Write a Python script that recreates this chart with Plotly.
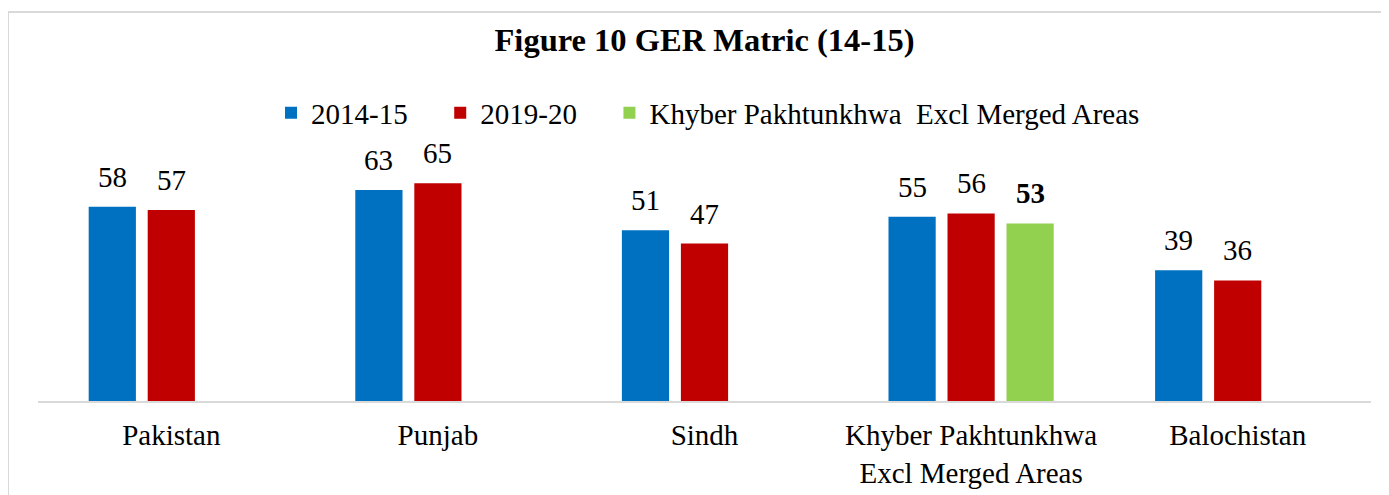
import plotly.graph_objects as go

categories = ["Pakistan", "Punjab", "Sindh", "Khyber Pakhtunkhwa<br>Excl Merged Areas", "Balochistan"]
series_names = ["2014-15", "2019-20", "Khyber Pakhtunkhwa  Excl Merged Areas"]
values_2014 = [58, 63, 51, 55, 39]
values_2019 = [57, 65, 47, 56, 36]
values_kp_excl = [None, None, None, 53, None]
colors = ["#0070C0", "#C00000", "#92D050"]
title_text = "<b>Figure 10 GER Matric (14-15)</b>"

# the page body adds an 8px margin, so the figure is 8px smaller than the window
OFF = 8
W, H = 1389 - OFF, 495 - OFF
ML, MR, MT, MB = 38 - OFF, 18, 133 - OFF, 94
BARGAP, BARGROUPGAP = 0.336, 0.2
YMAX = 80
FONT = "Liberation Serif"

plot_w = W - ML - MR
plot_h = H - MT - MB
cat_px = plot_w / len(categories)
slot_px = cat_px * (1 - BARGAP) / len(series_names)

fig = go.Figure()
all_series = [values_2014, values_2019, values_kp_excl]
pad = "\u00a0" * 3 + "\u2009"
for i, (name, vals, col) in enumerate(zip(series_names, all_series, colors)):
    fig.add_trace(go.Bar(
        x=categories, y=vals, name=name + (pad if i < 2 else ""),
        marker=dict(color=col, line=dict(width=0)),
        hoverinfo="x+y",
    ))

# data labels
for si, vals in enumerate(all_series):
    for c, v in zip(categories, vals):
        if v is None:
            continue
        txt = f"<b>{v}</b>" if si == 2 else str(v)
        fig.add_annotation(
            x=c, y=v, xref="x", yref="y", text=txt, showarrow=False,
            xanchor="center", yanchor="bottom",
            xshift=(si - 1) * slot_px, yshift=12,
            font=dict(family=FONT, size=29, color="#000000"),
        )

# chart border (light gray)
bx = (8 - OFF - ML) / plot_w
by = (H - MB - (12 - OFF)) / plot_h
fig.add_shape(type="line", xref="paper", yref="paper", x0=bx, x1=1.1, y0=by, y1=by,
              line=dict(color="#D9D9D9", width=2))
fig.add_shape(type="line", xref="paper", yref="paper", x0=bx, x1=bx, y0=by, y1=-0.5,
              line=dict(color="#D9D9D9", width=2))

fig.update_layout(
    width=W, height=H,
    margin=dict(l=ML, r=MR, t=MT, b=MB, autoexpand=False),
    paper_bgcolor="white", plot_bgcolor="white",
    barmode="group", bargap=BARGAP, bargroupgap=BARGROUPGAP,
    title=dict(text=title_text, x=0.5, xref="paper", xanchor="center",
               y=1 - (40 - OFF) / H, yref="container", yanchor="middle",
               font=dict(family=FONT, size=32.5, color="#000000")),
    legend=dict(orientation="h", x=(263 - ML) / plot_w, xanchor="left",
                y=(H - MB - (113 - OFF)) / plot_h, yanchor="middle",
                font=dict(family=FONT, size=29, color="#000000"),
                bgcolor="rgba(0,0,0,0)"),
    font=dict(family=FONT, size=29, color="#000000"),
    showlegend=True,
)
fig.update_xaxes(showline=True, linecolor="#D9D9D9", linewidth=2, ticks="",
                 showgrid=False, automargin=False, ticklabelstandoff=7,
                 tickfont=dict(family=FONT, size=29, color="#000000"),
                 fixedrange=True)
fig.update_yaxes(range=[0, YMAX], visible=False, showgrid=False, fixedrange=True,
                 automargin=False)

fig.write_html("out.html")
